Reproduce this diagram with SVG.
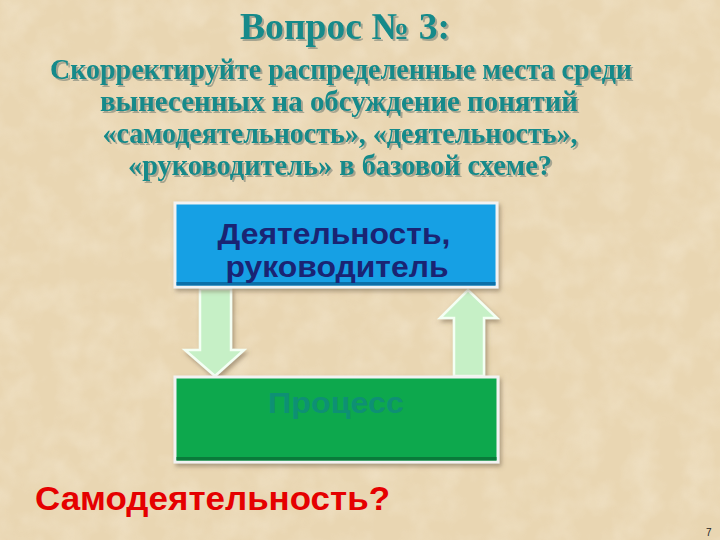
<svg xmlns="http://www.w3.org/2000/svg" width="720" height="540" viewBox="0 0 720 540">
<defs>
<style>
.t{font-family:"Liberation Serif","Times New Roman",serif;font-weight:bold;fill:#128A8A;text-anchor:middle}
.lbl{font-family:"Liberation Sans",Arial,sans-serif;font-weight:bold;font-size:29px;text-anchor:middle}
.arrow{fill:#C6F0C6;stroke:#F4FFF4;stroke-width:2.5}
</style>
<filter id="shadow" x="-10%" y="-10%" width="130%" height="140%">
<feDropShadow dx="2" dy="3" stdDeviation="2" flood-color="#6A5A40" flood-opacity="0.5"/>
</filter>
<filter id="tshadow" x="-5%" y="-20%" width="110%" height="150%">
<feDropShadow dx="2" dy="2" stdDeviation="0.6" flood-color="#6E7A70" flood-opacity="0.55"/>
</filter>
<filter id="noise" x="0" y="0" width="100%" height="100%">
<feTurbulence type="fractalNoise" baseFrequency="0.035" numOctaves="3" seed="4"/>
<feColorMatrix type="matrix" values="0 0 0 0 0.93  0 0 0 0 0.85  0 0 0 0 0.70  0 0 0 -1.2 0.75"/>
</filter>
</defs>
<rect width="720" height="540" fill="#E9D6B2"/>
<rect width="720" height="540" filter="url(#noise)" opacity="0.6"/>
<g id="title" filter="url(#tshadow)">
<text class="t" x="345" y="39" font-size="38" textLength="210" lengthAdjust="spacingAndGlyphs">Вопрос № 3:</text>
<g font-size="29">
<text class="t" x="341" y="79" textLength="582" lengthAdjust="spacingAndGlyphs">Скорректируйте распределенные места среди</text>
<text class="t" x="339" y="111" textLength="478" lengthAdjust="spacingAndGlyphs">вынесенных на обсуждение понятий</text>
<text class="t" x="340" y="143" textLength="475" lengthAdjust="spacingAndGlyphs">«самодеятельность», «деятельность»,</text>
<text class="t" x="340" y="175" textLength="424" lengthAdjust="spacingAndGlyphs">«руководитель» в базовой схеме?</text>
</g>
</g>
<g id="connectors">
<path class="arrow" filter="url(#shadow)" d="M200,289 L231,289 L231,350 L244,350 L215,376 L185,350 L200,350 Z"/>
<path class="arrow" filter="url(#shadow)" d="M454,376 L484,376 L484,318 L497,318 L468,290 L440,318 L454,318 Z"/>
</g>
<g id="node-activity">
<rect x="175" y="203" width="322" height="84" fill="#12A0E4" stroke="#F2F2F2" stroke-width="3" filter="url(#shadow)"/>
<rect x="176.5" y="282" width="319" height="3.5" fill="#0B6FA8"/>
<text class="lbl" x="334" y="244" fill="#1A2473" textLength="233" lengthAdjust="spacingAndGlyphs">Деятельность,</text>
<text class="lbl" x="337" y="277" fill="#1A2473" textLength="223" lengthAdjust="spacingAndGlyphs">руководитель</text>
</g>
<g id="node-process">
<rect x="175" y="377" width="323" height="85" fill="#10A84E" stroke="#F2F2F2" stroke-width="3" filter="url(#shadow)"/>
<rect x="176.5" y="457" width="320" height="3.5" fill="#0A7A3A"/>
<text class="lbl" x="336" y="413" fill="#0E9074" textLength="136" lengthAdjust="spacingAndGlyphs">Процесс</text>
</g>
<text x="35" y="510" font-family="'Liberation Sans',Arial,sans-serif" font-weight="bold" font-size="34" fill="#E50000" textLength="355" lengthAdjust="spacingAndGlyphs">Самодеятельность?</text>
<text x="706" y="536" font-family="'Liberation Sans',Arial,sans-serif" font-size="10" fill="#222">7</text>
</svg>
